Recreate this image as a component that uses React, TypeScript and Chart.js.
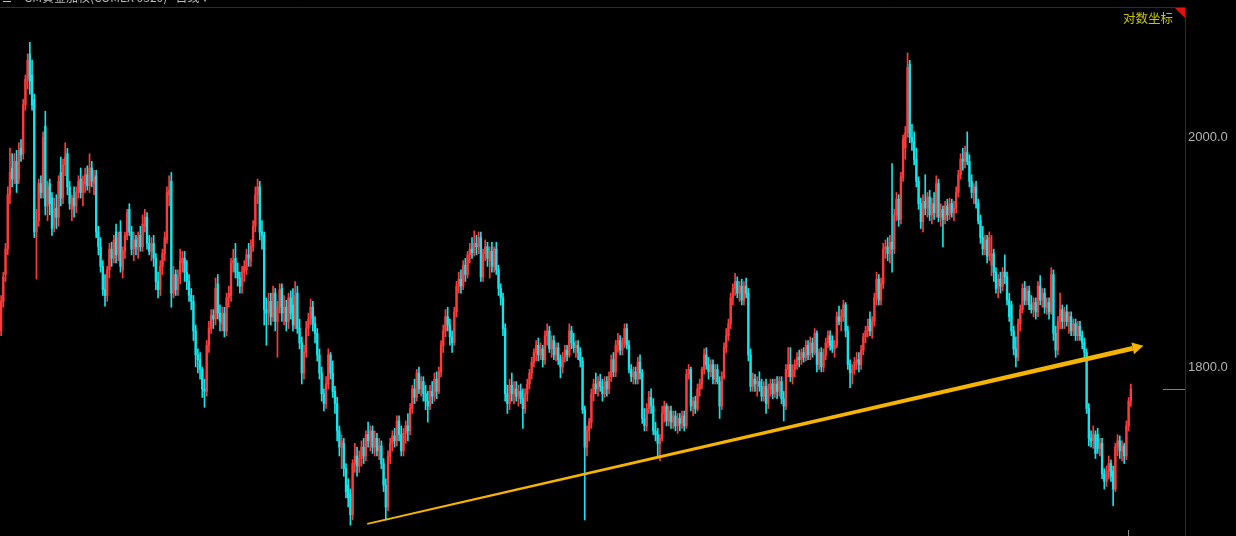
import { useEffect, useRef } from "react";
import { Chart, registerables } from "chart.js";

Chart.register(...registerables);

type OHLC = [number, number, number, number]; // open, high, low, close

// Daily candles (weighted COMEX gold)
const ohlcJul20toFeb21: OHLC[] = [
  [1830,1860,1826,1855],[1855,1880,1850,1876],[1878,1905,1872,1900],[1900,1955,1895,1948],[1948,1990,1940,1968],
  [1972,1985,1955,1962],[1962,1985,1958,1978],[1978,1988,1950,1958],[1962,1995,1958,1988],[1990,1998,1978,1984],
  [1985,2035,1980,2030],[2030,2058,2025,2054],[2054,2078,2045,2072],[2078,2089,2040,2052],[2058,2072,2025,2030],
  [2035,2040,1910,1915],[1915,1935,1874,1925],[1925,1962,1920,1958],[1958,1965,1945,1950],[1950,2005,1945,2000],
  [2010,2024,1930,1938],[1938,1960,1925,1955],[1958,1962,1930,1940],[1945,1950,1912,1918],[1920,1945,1915,1935],
  [1936,1948,1918,1928],[1928,1965,1920,1960],[1968,1982,1938,1945],[1945,1980,1940,1975],[1975,1995,1965,1982],
  [1985,1990,1948,1955],[1955,1960,1935,1940],[1935,1948,1925,1945],[1945,1955,1928,1938],[1938,1955,1932,1950],
  [1950,1965,1945,1960],[1962,1972,1945,1950],[1950,1965,1938,1960],[1958,1972,1950,1966],[1966,1974,1952,1956],
  [1956,1985,1950,1972],[1972,1978,1955,1960],[1958,1970,1948,1964],[1965,1970,1910,1915],[1915,1920,1895,1902],
  [1902,1910,1880,1885],[1885,1890,1860,1865],[1865,1878,1851,1860],[1860,1885,1855,1882],[1882,1905,1875,1900],
  [1900,1906,1885,1892],[1892,1912,1888,1908],[1915,1922,1888,1895],[1895,1915,1890,1910],[1915,1925,1880,1885],
  [1882,1902,1875,1898],[1898,1915,1892,1912],[1912,1935,1908,1932],[1935,1940,1912,1915],[1915,1920,1895,1900],
  [1900,1915,1890,1908],[1908,1912,1895,1902],[1900,1915,1892,1910],[1912,1920,1898,1902],[1902,1930,1898,1922],
  [1920,1935,1915,1928],[1928,1932,1900,1905],[1905,1912,1895,1898],[1898,1910,1890,1905],[1905,1912,1885,1892],
  [1892,1896,1865,1872],[1872,1880,1858,1865],[1865,1890,1860,1885],[1885,1900,1878,1896],[1896,1915,1890,1910],
  [1908,1955,1905,1950],[1948,1965,1938,1952],[1960,1968,1850,1862],[1862,1885,1858,1878],[1878,1882,1860,1865],
  [1865,1882,1860,1876],[1876,1900,1870,1890],[1888,1898,1880,1892],[1892,1898,1872,1880],[1880,1890,1865,1872],
  [1872,1878,1855,1860],[1860,1866,1848,1855],[1855,1860,1822,1830],[1830,1835,1800,1810],[1810,1815,1795,1806],
  [1806,1812,1790,1798],[1798,1800,1775,1782],[1782,1790,1767,1780],[1780,1822,1776,1818],[1818,1838,1812,1832],
  [1832,1848,1828,1843],[1843,1848,1832,1840],[1840,1875,1835,1866],[1870,1878,1840,1845],[1845,1852,1830,1838],
  [1836,1850,1830,1845],[1845,1850,1825,1830],[1830,1862,1826,1858],[1858,1868,1850,1862],[1860,1892,1855,1888],
  [1888,1900,1880,1890],[1892,1905,1875,1880],[1880,1888,1868,1875],[1875,1880,1862,1868],[1868,1885,1862,1880],
  [1880,1890,1872,1885],[1882,1900,1878,1895],[1895,1905,1885,1892],[1890,1908,1885,1902],[1902,1925,1898,1920],
  [1920,1955,1915,1948],[1948,1962,1940,1955],[1955,1960,1908,1915],[1915,1925,1900,1912],[1912,1915,1835,1848],
  [1848,1858,1818,1845],[1845,1862,1835,1855],[1855,1862,1835,1842],[1842,1868,1838,1862],[1862,1866,1830,1838],
  [1838,1855,1808,1850],[1850,1870,1845,1865],[1866,1870,1838,1845],[1845,1860,1835,1850],[1850,1856,1830,1838],
  [1838,1862,1832,1858],[1858,1864,1840,1845],[1852,1866,1830,1835],[1835,1872,1832,1860],[1862,1868,1828,1832],
];

const ohlcFeb21toAug21: OHLC[] = [
  [1832,1840,1815,1820],[1820,1825,1786,1795],[1795,1818,1790,1812],[1812,1838,1808,1832],[1832,1845,1826,1840],
  [1840,1857,1835,1850],[1850,1855,1830,1836],[1836,1842,1820,1828],[1828,1832,1805,1810],[1810,1815,1790,1795],
  [1795,1800,1772,1778],[1778,1782,1764,1770],[1770,1792,1766,1786],[1786,1815,1782,1810],[1810,1812,1790,1795],
  [1795,1805,1775,1780],[1780,1784,1762,1770],[1770,1775,1740,1748],[1748,1752,1728,1735],[1735,1745,1718,1740],
  [1738,1742,1712,1718],[1718,1722,1695,1700],[1705,1710,1688,1695],[1698,1702,1674,1682],[1682,1725,1678,1722],
  [1722,1738,1715,1728],[1728,1735,1712,1720],[1720,1732,1715,1726],[1726,1740,1720,1735],[1735,1742,1722,1728],
  [1728,1748,1724,1745],[1745,1755,1735,1740],[1740,1752,1732,1748],[1748,1752,1730,1735],[1735,1748,1728,1742],
  [1742,1746,1728,1732],[1732,1742,1725,1736],[1736,1740,1718,1722],[1722,1726,1700,1705],[1705,1710,1678,1688],
  [1688,1732,1685,1728],[1728,1742,1722,1738],[1738,1748,1732,1744],[1744,1750,1735,1740],[1740,1760,1736,1756],
  [1756,1760,1740,1745],[1745,1752,1728,1732],[1732,1750,1728,1746],[1746,1756,1738,1752],[1752,1762,1740,1748],
  [1748,1770,1745,1766],[1766,1785,1762,1782],[1782,1790,1770,1775],[1775,1798,1772,1795],[1795,1800,1778,1782],
  [1782,1792,1776,1788],[1788,1792,1772,1778],[1778,1785,1765,1772],[1772,1780,1755,1768],[1768,1785,1765,1780],
  [1780,1788,1770,1776],[1776,1795,1772,1790],[1790,1796,1774,1780],[1780,1800,1778,1796],[1796,1822,1792,1818],
  [1818,1835,1812,1830],[1830,1848,1825,1842],[1842,1850,1830,1835],[1835,1840,1818,1825],[1825,1830,1812,1820],
  [1820,1850,1818,1846],[1846,1872,1842,1868],[1868,1880,1862,1874],[1874,1882,1862,1868],[1868,1890,1865,1886],
  [1886,1892,1872,1878],[1878,1898,1875,1895],[1895,1905,1888,1900],[1900,1910,1892,1897],[1897,1916,1894,1905],
  [1905,1912,1895,1902],[1902,1915,1896,1910],[1910,1915,1872,1876],[1876,1900,1872,1896],[1896,1908,1890,1902],
  [1902,1906,1885,1892],[1890,1902,1875,1898],[1898,1906,1880,1885],[1885,1902,1880,1900],[1900,1906,1878,1882],
  [1882,1886,1860,1866],[1866,1870,1852,1858],[1858,1862,1826,1832],[1832,1836,1772,1778],[1778,1785,1762,1770],
  [1770,1790,1765,1785],[1785,1795,1772,1778],[1778,1788,1770,1782],[1782,1788,1772,1776],[1776,1785,1768,1780],
  [1780,1786,1770,1774],[1774,1782,1750,1766],[1766,1782,1762,1778],[1778,1790,1772,1786],[1786,1798,1782,1795],
  [1795,1808,1790,1804],[1804,1815,1800,1812],[1812,1822,1805,1818],[1818,1824,1805,1810],[1810,1820,1806,1815],
  [1815,1818,1800,1806],[1806,1830,1802,1826],[1826,1836,1818,1830],[1830,1834,1812,1815],[1815,1826,1808,1822],
  [1822,1826,1806,1810],[1810,1820,1805,1816],[1816,1820,1802,1806],[1806,1810,1791,1800],[1800,1812,1795,1808],
  [1808,1818,1804,1814],[1814,1818,1805,1810],[1810,1836,1808,1830],[1830,1834,1815,1820],[1820,1828,1812,1816],
  [1816,1822,1808,1818],[1818,1822,1806,1812],[1812,1816,1800,1805],[1805,1808,1762,1765],[1765,1768,1678,1735],
  [1735,1752,1728,1748],[1748,1758,1740,1755],
];

const ohlcAug21toFeb22: OHLC[] = [
  [1755,1782,1750,1778],[1778,1790,1772,1786],[1786,1795,1778,1782],[1782,1792,1776,1788],[1788,1794,1780,1784],
  [1784,1790,1772,1778],[1778,1792,1775,1788],[1788,1792,1776,1782],[1782,1796,1778,1792],[1792,1810,1788,1806],
  [1806,1812,1792,1796],[1796,1822,1792,1818],[1818,1828,1812,1822],[1822,1826,1810,1814],[1814,1824,1810,1820],
  [1820,1836,1816,1832],[1832,1836,1815,1818],[1818,1822,1795,1798],[1798,1802,1788,1792],[1792,1800,1786,1796],
  [1796,1800,1786,1790],[1790,1808,1786,1804],[1804,1810,1790,1795],[1795,1798,1754,1758],[1758,1766,1748,1752],
  [1752,1770,1748,1766],[1766,1780,1762,1775],[1775,1782,1762,1768],[1768,1774,1745,1748],[1748,1755,1740,1745],
  [1745,1750,1728,1738],[1738,1745,1724,1742],[1742,1768,1740,1762],[1762,1772,1755,1768],[1768,1770,1752,1756],
  [1756,1768,1752,1764],[1764,1768,1750,1755],[1755,1764,1750,1760],[1760,1764,1748,1752],[1752,1762,1746,1758],
  [1758,1762,1748,1754],[1754,1764,1750,1760],[1760,1764,1748,1752],[1752,1798,1750,1794],[1794,1802,1790,1798],
  [1798,1800,1764,1768],[1768,1775,1760,1772],[1772,1776,1762,1766],[1766,1786,1764,1782],[1782,1790,1776,1786],
  [1786,1800,1782,1798],[1798,1815,1794,1810],[1810,1816,1798,1802],[1802,1808,1790,1796],[1796,1806,1792,1802],
  [1802,1806,1786,1790],[1790,1802,1786,1798],[1798,1802,1786,1788],[1788,1792,1758,1768],[1768,1796,1765,1792],
  [1792,1820,1790,1816],[1816,1832,1812,1826],[1826,1840,1822,1836],[1836,1862,1832,1858],[1858,1870,1852,1866],
  [1866,1879,1860,1872],[1872,1876,1858,1862],[1862,1872,1855,1868],[1868,1874,1852,1856],[1856,1872,1852,1868],
  [1868,1875,1858,1862],[1862,1866,1805,1810],[1810,1815,1780,1784],[1784,1795,1780,1790],[1790,1794,1780,1786],
  [1786,1792,1776,1788],[1788,1796,1780,1784],[1784,1790,1772,1776],[1776,1788,1772,1784],[1784,1790,1762,1770],
  [1770,1786,1766,1782],[1782,1790,1776,1786],[1786,1790,1774,1778],[1778,1790,1775,1786],[1786,1792,1774,1780],
  [1780,1792,1776,1788],[1788,1792,1770,1774],[1774,1780,1756,1768],[1768,1802,1765,1798],[1798,1816,1792,1802],
  [1802,1816,1788,1792],[1792,1802,1786,1798],[1798,1806,1792,1802],[1802,1812,1798,1808],[1808,1814,1800,1806],
  [1806,1815,1802,1812],[1812,1816,1804,1808],[1808,1822,1805,1818],[1818,1822,1806,1810],[1810,1825,1806,1820],
  [1820,1824,1808,1812],[1812,1832,1810,1828],[1828,1830,1796,1802],[1802,1815,1798,1812],[1812,1816,1796,1800],
  [1800,1815,1796,1810],[1810,1824,1806,1820],[1820,1830,1816,1826],[1826,1830,1814,1818],[1822,1826,1812,1815],
  [1815,1822,1808,1818],[1818,1846,1816,1842],[1842,1851,1835,1838],[1838,1848,1830,1842],[1842,1856,1838,1852],
  [1852,1854,1825,1830],[1830,1834,1798,1802],[1802,1806,1783,1795],[1795,1802,1786,1798],[1798,1808,1794,1804],
  [1804,1812,1798,1806],[1806,1812,1796,1802],[1802,1818,1798,1814],[1814,1828,1810,1825],[1825,1834,1820,1830],
  [1830,1840,1825,1834],[1840,1846,1826,1830],[1830,1842,1824,1838],[1838,1862,1834,1858],[1858,1880,1852,1874],
  [1874,1878,1852,1856],[1856,1875,1852,1870],[1870,1905,1866,1900],[1900,1908,1892,1902],[1902,1910,1890,1896],
  [1896,1912,1888,1906],
];

const ohlcFeb22toJul22: OHLC[] = [
  [1906,1976,1880,1900],[1900,1935,1896,1930],[1930,1950,1925,1944],[1944,1948,1920,1926],[1926,1968,1922,1964],
  [1964,2002,1960,1998],[1990,2010,1980,2004],[2004,2079,2000,2065],[2068,2072,1995,2000],[2000,2012,1988,1996],
  [1996,2005,1975,1980],[1980,1990,1955,1960],[1960,1964,1935,1940],[1940,1945,1918,1924],[1924,1948,1915,1942],
  [1942,1966,1930,1936],[1936,1950,1928,1946],[1946,1952,1925,1930],[1930,1945,1922,1940],[1940,1950,1926,1932],
  [1932,1965,1928,1958],[1958,1962,1924,1928],[1928,1940,1920,1935],[1935,1938,1902,1926],[1926,1942,1922,1938],
  [1938,1944,1925,1930],[1930,1945,1926,1940],[1940,1944,1928,1932],[1932,1942,1925,1936],[1936,1955,1932,1950],
  [1950,1970,1946,1966],[1966,1985,1962,1980],[1980,1990,1970,1978],[1978,1992,1972,1986],[1986,2005,1975,1978],
  [1978,1984,1955,1960],[1960,1966,1945,1950],[1950,1958,1940,1955],[1955,1960,1936,1940],[1940,1944,1922,1925],
  [1925,1930,1905,1910],[1910,1920,1895,1900],[1900,1912,1895,1908],[1908,1912,1888,1894],[1894,1915,1890,1910],
  [1886,1912,1877,1896],[1896,1900,1872,1880],[1880,1884,1862,1866],[1866,1878,1858,1874],[1874,1880,1862,1868],
  [1868,1884,1864,1880],[1880,1895,1870,1876],[1876,1880,1852,1856],[1856,1862,1838,1842],[1852,1855,1826,1830],
  [1830,1834,1810,1815],[1815,1825,1800,1808],[1808,1840,1805,1836],[1836,1852,1830,1848],[1848,1870,1845,1866],
  [1866,1872,1852,1856],[1856,1868,1852,1864],[1864,1868,1848,1852],[1852,1860,1845,1848],[1848,1858,1842,1854],
  [1854,1858,1840,1846],[1846,1872,1842,1868],[1868,1877,1852,1856],[1856,1866,1850,1862],[1862,1866,1845,1850],
  [1850,1858,1844,1854],[1854,1858,1840,1846],[1846,1884,1844,1878],[1878,1882,1822,1828],[1828,1834,1808,1814],
  [1814,1842,1810,1838],[1838,1862,1832,1848],[1848,1852,1832,1838],[1838,1850,1832,1846],[1846,1852,1834,1838],
  [1838,1846,1828,1842],[1842,1846,1826,1830],[1830,1840,1826,1836],[1836,1840,1822,1826],[1826,1838,1822,1834],
  [1834,1838,1822,1826],[1826,1830,1815,1820],[1820,1824,1808,1812],[1812,1815,1762,1766],[1766,1770,1736,1742],
  [1742,1748,1735,1740],[1740,1752,1734,1745],[1745,1748,1726,1730],[1745,1750,1730,1734],[1734,1742,1728,1738],
  [1738,1742,1710,1714],[1714,1718,1702,1708],[1708,1720,1704,1716],[1716,1728,1710,1722],[1722,1725,1708,1712],
  [1716,1720,1689,1702],[1702,1738,1700,1735],[1735,1745,1728,1740],[1740,1744,1726,1732],[1732,1740,1724,1736],
  [1736,1738,1722,1728],[1728,1756,1725,1752],[1752,1775,1748,1772],[1772,1786,1768,1782],
];

const candles: OHLC[] = [...ohlcJul20toFeb21, ...ohlcFeb21toAug21, ...ohlcAug21toFeb22, ...ohlcFeb22toJul22];

const TOTAL_SLOTS = 536; // trading-day slots on the time axis (right part left empty)
const slotLabels = Array.from({ length: TOTAL_SLOTS }, (_, i) => `D${i + 1}`);
const yTicks = [1800, 2000];
const yMin = 1665.7;
const yMax = 2122.2;
const trendFrom = { index: 165.6, price: 1675 };
const trendTo = { index: 516.7, price: 1817.5 };
const titleText = "GM黄金加权(COMEX 0320)   日线 ▾";
const scaleNote = "对数坐标";

const UP = "#ff3a3a";
const DOWN = "#14e4ec";
const FRAME = "#7a0c0c";

export default function App() {
  const canvasRef = useRef<HTMLCanvasElement | null>(null);

  useEffect(() => {
    const canvas = canvasRef.current;
    if (!canvas) return;
    const colors = candles.map((c) => (c[3] >= c[0] ? UP : DOWN));
    const wicks = slotLabels.map((_, i) => (i < candles.length ? [candles[i][2], candles[i][1]] : null));
    const bodies = slotLabels.map((_, i) =>
      i < candles.length ? [Math.min(candles[i][0], candles[i][3]), Math.max(candles[i][0], candles[i][3])] : null
    );

    const overlay = {
      id: "overlay",
      beforeDraw(chart: any) {
        const { ctx, width, height } = chart;
        ctx.save();
        ctx.fillStyle = "#000";
        ctx.fillRect(0, 0, width, height);
        ctx.restore();
      },
      afterDatasetsDraw(chart: any) {
        const { ctx, scales } = chart;
        const x = scales.x;
        const y = scales.y;
        const x1 = x.getPixelForValue(trendFrom.index);
        const y1 = y.getPixelForValue(trendFrom.price);
        const x2 = x.getPixelForValue(trendTo.index);
        const y2 = y.getPixelForValue(trendTo.price);
        const len = Math.hypot(x2 - x1, y2 - y1);
        const dx = (x2 - x1) / len;
        const dy = (y2 - y1) / len;
        const nx = -dy;
        const ny = dx;
        const headLen = 11;
        const bx = x2 - dx * headLen;
        const by = y2 - dy * headLen;
        const w1 = 0.8;
        const w2 = 2.4;
        ctx.save();
        ctx.fillStyle = "#f6b400";
        ctx.beginPath();
        ctx.moveTo(x1 + nx * w1, y1 + ny * w1);
        ctx.lineTo(bx + nx * w2, by + ny * w2);
        ctx.lineTo(bx - nx * w2, by - ny * w2);
        ctx.lineTo(x1 - nx * w1, y1 - ny * w1);
        ctx.closePath();
        ctx.fill();
        ctx.beginPath();
        ctx.moveTo(x2, y2);
        ctx.lineTo(bx + nx * 6, by + ny * 6);
        ctx.lineTo(bx - nx * 6, by - ny * 6);
        ctx.closePath();
        ctx.fill();
        ctx.restore();
      },
      afterDraw(chart: any) {
        const { ctx, chartArea, scales } = chart;
        const x = scales.x;
        const y = scales.y;
        ctx.save();
        // frame
        ctx.strokeStyle = FRAME;
        ctx.lineWidth = 1;
        ctx.beginPath();
        ctx.moveTo(0, chartArea.top - 0.5);
        ctx.lineTo(chartArea.right + 0.5, chartArea.top - 0.5);
        ctx.moveTo(chartArea.right + 0.5, chartArea.top - 0.5);
        ctx.lineTo(chartArea.right + 0.5, chartArea.bottom);
        ctx.stroke();
        // corner mark
        ctx.fillStyle = "#e01212";
        ctx.beginPath();
        ctx.moveTo(chartArea.right - 10, chartArea.top);
        ctx.lineTo(chartArea.right, chartArea.top);
        ctx.lineTo(chartArea.right, chartArea.top + 10);
        ctx.closePath();
        ctx.fill();
        // log-scale note
        ctx.fillStyle = "#c8c400";
        ctx.font = "12.5px 'Noto Sans CJK SC', sans-serif";
        ctx.textAlign = "right";
        ctx.textBaseline = "middle";
        ctx.fillText(scaleNote, chartArea.right - 12, chartArea.top + 10);
        // title (clipped at top)
        ctx.fillStyle = "#bdbdbd";
        ctx.font = "12px 'Noto Sans CJK SC', sans-serif";
        ctx.textAlign = "left";
        ctx.textBaseline = "alphabetic";
        ctx.fillText(titleText, 24, 2);
        ctx.fillRect(3, 1, 8, 1);
        // last price marker
        const last = candles[candles.length - 1];
        const ly = Math.round(y.getPixelForValue(last[3])) + 0.5;
        ctx.strokeStyle = "#8e8c00";
        ctx.beginPath();
        ctx.moveTo(chartArea.right - 22, ly);
        ctx.lineTo(chartArea.right, ly);
        ctx.stroke();
        // time cursor tick
        const lx = Math.round(x.getPixelForValue(candles.length - 1)) - 2.5;
        ctx.strokeStyle = "#8a8a8a";
        ctx.beginPath();
        ctx.moveTo(lx, chartArea.bottom - 6);
        ctx.lineTo(lx, chartArea.bottom);
        ctx.stroke();
        ctx.restore();
      },
    };

    const chart = new Chart(canvas, {
      type: "bar",
      data: {
        labels: slotLabels,
        datasets: [
          {
            data: wicks as any,
            backgroundColor: colors,
            barThickness: 1,
            grouped: false,
            borderWidth: 0,
            order: 2,
          },
          {
            data: bodies as any,
            backgroundColor: colors,
            barThickness: 1.7,
            grouped: false,
            borderWidth: 0,
            order: 1,
          },
        ],
      },
      options: {
        responsive: false,
        animation: false,
        devicePixelRatio: 1,
        events: [],
        layout: { padding: { top: 8, left: 0, right: 0, bottom: 0 } },
        plugins: { legend: { display: false }, tooltip: { enabled: false } },
        scales: {
          x: {
            type: "category",
            display: false,
            offset: true,
            grid: { display: false },
          },
          y: {
            type: "logarithmic",
            position: "right",
            min: yMin,
            max: yMax,
            grid: { display: false, drawTicks: false },
            border: { display: false },
            afterFit: (scale: any) => {
              scale.width = 51;
              scale.paddingTop = 0;
              scale.paddingBottom = 0;
            },
            afterBuildTicks: (scale: any) => {
              scale.ticks = yTicks.map((v) => ({ value: v }));
            },
            ticks: {
              autoSkip: false,
              padding: 3,
              color: "#b4b4b4",
              font: { family: "'Liberation Sans', Arial, sans-serif", size: 13 },
              callback: (v: any) => Number(v).toFixed(1),
            },
          },
        },
      },
      plugins: [overlay],
    });
    return () => chart.destroy();
  }, []);

  return (
    <div style={{ position: "fixed", left: 0, top: 0, width: 1236, height: 536, background: "#000" }}>
      <canvas ref={canvasRef} width={1236} height={536} style={{ display: "block" }} />
    </div>
  );
}
